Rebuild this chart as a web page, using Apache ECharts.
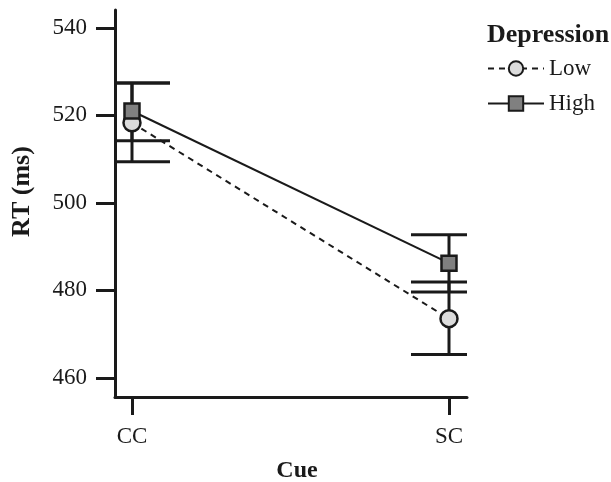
<!DOCTYPE html>
<html>
<head>
<meta charset="utf-8">
<script src="https://cdn.jsdelivr.net/npm/echarts@6/dist/echarts.min.js"></script>
<style>html,body{margin:0;padding:0;background:#fff;}#chart{width:611px;height:482px;}</style>
</head>
<body>
<div id="chart"></div>
<script>
var categories = ['CC', 'SC'];
var yTicks = [460, 480, 500, 520, 540];
var seriesNames = ['Low', 'High'];
var lowMeans = [518.3, 473.5];
var lowUpper = [527.4, 481.9];
var lowLower = [509.4, 465.3];
var highMeans = [521.0, 486.2];
var highUpper = [527.4, 492.7];
var highLower = [514.2, 479.6];

var FONT = '"Liberation Serif", "Times New Roman", serif';
var INK = '#1a1a1a';

function pts(means) { return means.map(function (v, i) { return [i, v]; }); }
function errs(lo, hi) { return lo.map(function (v, i) { return [i, v, hi[i]]; }); }

function renderErr(params, api) {
  var x = api.value(0);
  var a = api.coord([x, api.value(1)]);
  var b = api.coord([x, api.value(2)]);
  var cs = params.coordSys;
  var hw = 38;
  var x0 = Math.max(cs.x, a[0] - hw);
  var x1 = Math.min(cs.x + cs.width, a[0] + hw);
  var st = { stroke: INK, lineWidth: 3 };
  return {
    type: 'group',
    children: [
      { type: 'line', shape: { x1: a[0], y1: a[1], x2: b[0], y2: b[1] }, style: st },
      { type: 'line', shape: { x1: x0, y1: a[1], x2: x1, y2: a[1] }, style: st },
      { type: 'line', shape: { x1: x0, y1: b[1], x2: x1, y2: b[1] }, style: st }
    ]
  };
}

var chart = echarts.init(document.getElementById('chart'));
chart.setOption({
  animation: false,
  backgroundColor: '#fff',
  title: {
    text: 'Depression', left: 482, top: 17,
    textStyle: { fontFamily: FONT, fontWeight: 'bold', fontSize: 26, color: INK }
  },
  legend: {
    data: seriesNames, orient: 'vertical', left: 482, top: 52,
    itemWidth: 56, itemHeight: 18, itemGap: 12,
    textStyle: { fontFamily: FONT, fontSize: 23, color: INK }
  },
  grid: { left: 115, right: 144, top: 10, bottom: 85, containLabel: false, outerBoundsMode: 'none' },
  xAxis: {
    type: 'value', min: -0.0536, max: 1.0568,
    name: 'Cue', nameLocation: 'middle', nameGap: 62,
    nameTextStyle: { fontFamily: FONT, fontWeight: 'bold', fontSize: 24, color: INK, padding: [0, 0, 0, 12] },
    axisLine: { onZero: false, lineStyle: { color: INK, width: 3 } },
    axisTick: { customValues: [0, 1], length: 18, lineStyle: { color: INK, width: 3 } },
    axisLabel: {
      customValues: [0, 1], margin: 28,
      formatter: function (v) { return categories[Math.round(v)]; },
      fontFamily: FONT, fontSize: 23, color: INK
    },
    splitLine: { show: false }
  },
  yAxis: {
    type: 'value', min: 455.6, max: 544.1,
    name: 'RT (ms)', nameLocation: 'middle', nameGap: 80,
    nameTextStyle: { fontFamily: FONT, fontWeight: 'bold', fontSize: 26, color: INK, padding: [0, 0, 0, 24] },
    axisLine: { onZero: false, lineStyle: { color: INK, width: 3 } },
    axisTick: { customValues: yTicks, length: 19, lineStyle: { color: INK, width: 3 } },
    axisLabel: {
      customValues: yTicks, margin: 28,
      fontFamily: FONT, fontSize: 23, color: INK
    },
    splitLine: { show: false }
  },
  series: [
    { type: 'custom', renderItem: renderErr, data: errs(lowLower, lowUpper), z: 1, silent: true },
    { type: 'custom', renderItem: renderErr, data: errs(highLower, highUpper), z: 1, silent: true },
    {
      name: 'Low', type: 'line', data: pts(lowMeans), z: 3,
      symbol: 'circle', symbolSize: 17,
      lineStyle: { color: INK, width: 2, type: [6, 5] },
      itemStyle: { color: '#dcdcdc', borderColor: INK, borderWidth: 2.5 }
    },
    {
      name: 'High', type: 'line', data: pts(highMeans), z: 4,
      symbol: 'rect', symbolSize: 15,
      lineStyle: { color: INK, width: 2 },
      itemStyle: { color: '#808080', borderColor: INK, borderWidth: 2.5 }
    }
  ]
});
</script>
</body>
</html>
